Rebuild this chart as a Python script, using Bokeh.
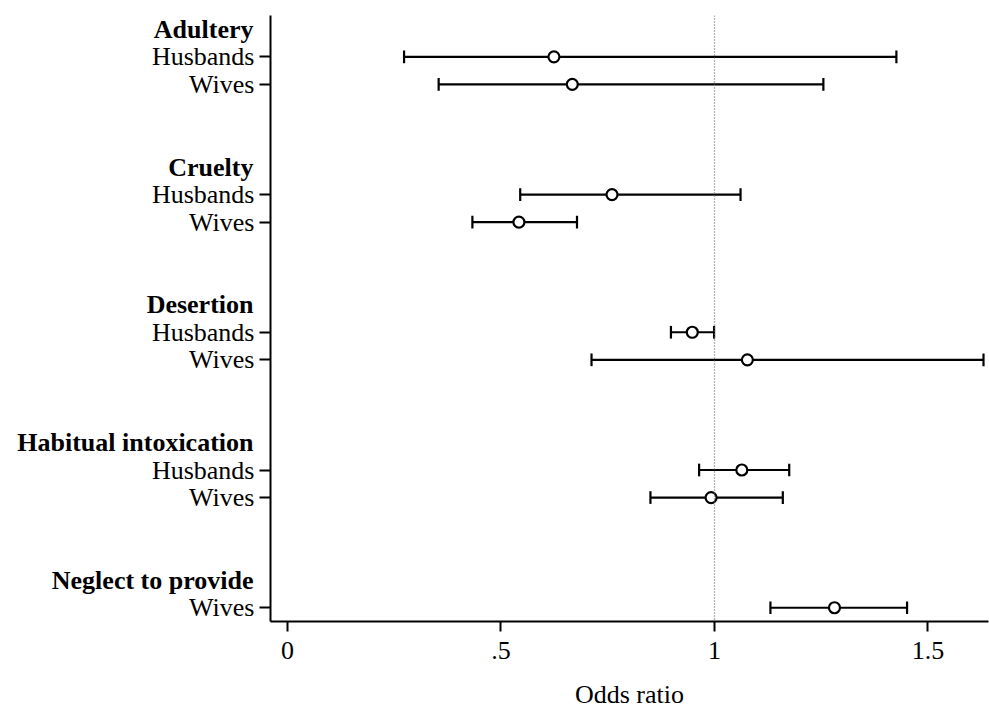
from bokeh.plotting import figure
from bokeh.models import Range1d, FixedTicker, Span, LinearAxis
from bokeh.embed import file_html
from bokeh.resources import INLINE

# ---- data ----
groups = ["Adultery", "Cruelty", "Desertion", "Habitual intoxication", "Neglect to provide"]
group_members = [["Husbands", "Wives"], ["Husbands", "Wives"], ["Husbands", "Wives"],
                 ["Husbands", "Wives"], ["Wives"]]
odds = [0.624, 0.667, 0.760, 0.542, 0.948, 1.077, 1.064, 0.992, 1.281]
lower = [0.273, 0.354, 0.545, 0.433, 0.898, 0.712, 0.964, 0.850, 1.131]
upper = [1.426, 1.255, 1.061, 0.678, 0.999, 1.630, 1.175, 1.160, 1.451]
x_ticks = [0, 0.5, 1, 1.5]
x_tick_labels = ["0", ".5", "1", "1.5"]

FONT = "Liberation Serif"
FS = "26px"

# row positions: header row then member rows, groups separated by blank rows
header_rows = []
rows = []
row_labels = []
r = 0
for g, members in zip(groups, group_members):
    header_rows.append(r)
    r += 1
    for m in members:
        rows.append(r)
        row_labels.append(m)
        r += 1
    r += 2

x0, x1 = -0.0398, 1.6417
p = figure(width=989, height=711, output_backend="svg", toolbar_location=None,
           x_range=Range1d(x0, x1), y_range=Range1d(rows[-1] + 0.5, -0.5),
           min_border_left=270, min_border_right=1, min_border_top=15, min_border_bottom=90)
p.outline_line_color = None
p.grid.visible = False
p.background_fill_color = "white"
p.border_fill_color = "white"

# reference line
p.add_layout(Span(location=1, dimension="height", line_color="#666666",
                  line_width=1.3, line_dash="1 2"))

# confidence intervals
p.segment(x0=lower, y0=rows, x1=upper, y1=rows, line_color="black", line_width=2.2)
cap = 0.23
p.segment(x0=lower, y0=[y - cap for y in rows], x1=lower, y1=[y + cap for y in rows],
          line_color="black", line_width=2.2)
p.segment(x0=upper, y0=[y - cap for y in rows], x1=upper, y1=[y + cap for y in rows],
          line_color="black", line_width=2.2)
p.scatter(x=odds, y=rows, marker="circle", size=11, fill_color="white",
          line_color="black", line_width=2.2)

# x axis
xa = p.xaxis[0]
xa.ticker = FixedTicker(ticks=x_ticks)
xa.major_label_overrides = {float(t): l for t, l in zip(x_ticks, x_tick_labels)}
xa.minor_tick_line_color = None
xa.major_tick_in = 0
xa.major_tick_out = 10
xa.axis_line_width = 2
xa.major_tick_line_width = 2
xa.major_label_text_font = FONT
xa.major_label_text_font_size = FS
xa.major_label_text_color = "black"
xa.major_label_standoff = 10
xa.axis_label = "Odds ratio"
xa.axis_label_text_font = FONT
xa.axis_label_text_font_size = FS
xa.axis_label_text_font_style = "normal"
xa.axis_label_text_color = "black"
xa.axis_label_standoff = 18

# y axis (member rows)
ya = p.yaxis[0]
ya.ticker = FixedTicker(ticks=rows)
ya.major_label_overrides = {float(y): l for y, l in zip(rows, row_labels)}
ya.minor_tick_line_color = None
ya.major_tick_in = 0
ya.major_tick_out = 11
ya.axis_line_width = 2
ya.major_tick_line_width = 2
ya.major_label_text_font = FONT
ya.major_label_text_font_size = FS
ya.major_label_text_color = "black"
ya.major_label_standoff = 5

# second y axis for bold group headers, pulled back over the first one
ha = LinearAxis(ticker=FixedTicker(ticks=header_rows),
                major_label_overrides={float(y): g for y, g in zip(header_rows, groups)})
ha.axis_line_color = None
ha.major_tick_line_color = None
ha.minor_tick_line_color = None
ha.major_tick_in = 0
ha.major_tick_out = 0
ha.major_label_text_font = FONT
ha.major_label_text_font_size = FS
ha.major_label_text_font_style = "bold"
ha.major_label_text_color = "black"
ha.major_label_standoff = -105
p.add_layout(ha, "left")

open("out.html", "w").write(file_html(p, INLINE))
